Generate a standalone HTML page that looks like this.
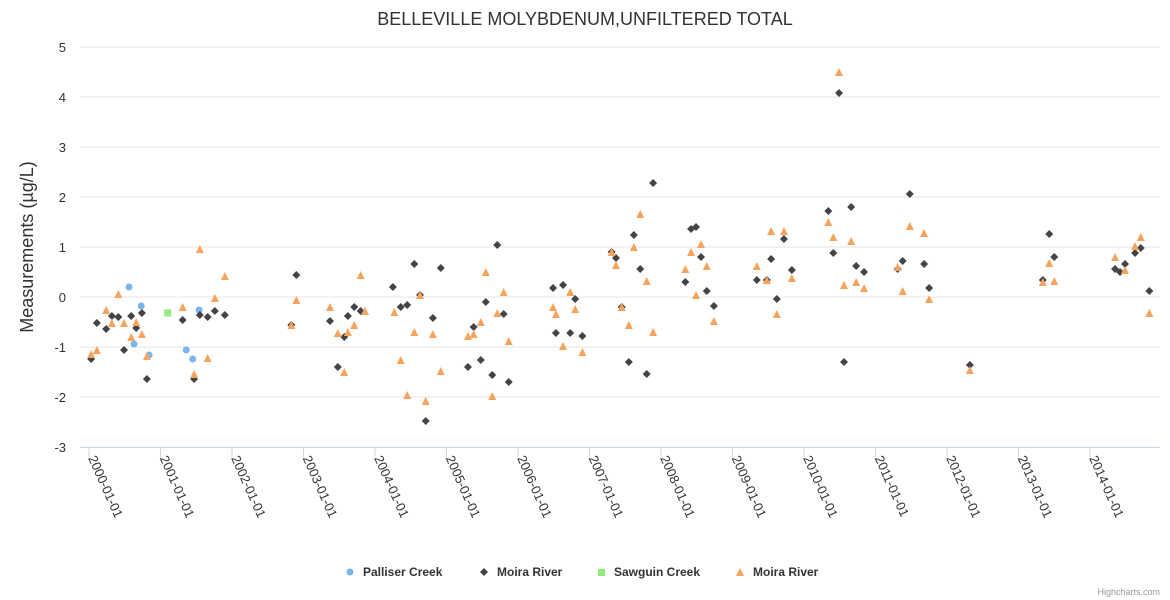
<!DOCTYPE html>
<html><head><meta charset="utf-8"><style>
html,body{margin:0;padding:0;background:#fff;}
svg{display:block;font-family:"Liberation Sans",sans-serif;}
</style></head><body>
<svg id="chart" width="1170" height="600" xmlns="http://www.w3.org/2000/svg">
<text x="585" y="25" text-anchor="middle" font-size="18" fill="#333">BELLEVILLE MOLYBDENUM,UNFILTERED TOTAL</text>
<text transform="translate(33,247) rotate(-90)" text-anchor="middle" font-size="18" fill="#333">Measurements (µg/L)</text>
<g id="grid"></g><g id="xaxis"></g><g id="marks"></g>
<g font-size="12" font-weight="bold" fill="#333">
<g><circle cx="350" cy="572" r="3.5" fill="#7cb5ec"/><text x="363" y="576">Palliser Creek</text></g>
<g><path d="M484 568 L488 572 L484 576 L480 572 Z" fill="#434348"/><text x="497" y="576">Moira River</text></g>
<g><rect x="598" y="569" width="7" height="7" fill="#90ed7d"/><text x="614" y="576">Sawguin Creek</text></g>
<g><path d="M740 568 L744 576 L736 576 Z" fill="#f7a35c"/><text x="753" y="576">Moira River</text></g>
</g>
<text x="1160" y="595" text-anchor="end" font-size="9" fill="#999">Highcharts.com</text>
</svg>
<script>
// years offset from 2000-01-01 and measured values
const yTicks=[-3,-2,-1,0,1,2,3,4,5];
const xTickYears=[0,1,2,3,4,5,6,7,8,9,10,11,12,13,14];
const xTickLabels=["2000-01-01","2001-01-01","2002-01-01","2003-01-01","2004-01-01","2005-01-01","2006-01-01","2007-01-01","2008-01-01","2009-01-01","2010-01-01","2011-01-01","2012-01-01","2013-01-01","2014-01-01"];
const palliserX=[0.56,0.63,0.73,0.84,1.36,1.45,1.54];
const palliserY=[0.20,-0.94,-0.18,-1.16,-1.06,-1.24,-0.26];
const sawguinX=[1.10];
const sawguinY=[-0.32];
const moiraAX=[0.03,0.11,0.24,0.32,0.41,0.49,0.59,0.66,0.74,0.81,1.31,1.47,1.55,1.66,1.76,1.90,2.83,2.90,3.37,3.48,3.57,3.62,3.71,3.80,4.25,4.36,4.45,4.55,4.63,4.71,4.81,4.92,5.30,5.38,5.48,5.55,5.64,5.71,5.80,5.87,6.49,6.53,6.63,6.73,6.80,6.90,7.31,7.37,7.45,7.55,7.62,7.71,7.80,7.89,8.34,8.42,8.49,8.56,8.64,8.74,9.34,9.48,9.54,9.62,9.72,9.83,10.34,10.41,10.49,10.56,10.66,10.73,10.84,11.31,11.38,11.48,11.68,11.75,12.32,13.34,13.43,13.50,14.35,14.42,14.49,14.63,14.71,14.83];
const moiraAY=[-1.24,-0.52,-0.64,-0.38,-0.40,-1.06,-0.38,-0.62,-0.32,-1.64,-0.46,-1.64,-0.36,-0.40,-0.28,-0.36,-0.56,0.44,-0.48,-1.40,-0.80,-0.38,-0.20,-0.28,0.20,-0.20,-0.16,0.66,0.04,-2.48,-0.42,0.58,-1.40,-0.60,-1.26,-0.10,-1.56,1.04,-0.34,-1.70,0.18,-0.72,0.24,-0.72,-0.04,-0.78,0.90,0.78,-0.20,-1.30,1.24,0.56,-1.54,2.28,0.30,1.36,1.40,0.80,0.12,-0.18,0.34,0.34,0.76,-0.04,1.16,0.54,1.72,0.88,4.08,-1.30,1.80,0.62,0.50,0.56,0.72,2.06,0.66,0.18,-1.36,0.34,1.26,0.80,0.56,0.50,0.66,0.88,0.98,0.12];
const moiraBX=[0.03,0.11,0.24,0.32,0.41,0.49,0.59,0.66,0.74,0.81,1.31,1.47,1.55,1.66,1.76,1.90,2.83,2.90,3.37,3.48,3.57,3.62,3.71,3.80,3.86,4.27,4.36,4.45,4.55,4.63,4.71,4.81,4.92,5.30,5.38,5.48,5.55,5.64,5.71,5.80,5.87,6.49,6.53,6.63,6.73,6.80,6.90,7.31,7.37,7.45,7.55,7.62,7.71,7.80,7.89,8.34,8.42,8.49,8.56,8.64,8.74,9.34,9.48,9.54,9.62,9.72,9.83,10.34,10.41,10.49,10.56,10.66,10.73,10.84,11.31,11.38,11.48,11.68,11.75,12.32,13.34,13.43,13.50,14.35,14.49,14.63,14.71,14.83];
const moiraBY=[-1.14,-1.06,-0.26,-0.52,0.06,-0.52,-0.80,-0.50,-0.74,-1.18,-0.20,-1.54,0.96,-1.22,-0.02,0.42,-0.56,-0.06,-0.20,-0.72,-1.50,-0.70,-0.56,0.44,-0.28,-0.30,-1.26,-1.96,-0.70,0.04,-2.08,-0.74,-1.48,-0.78,-0.74,-0.50,0.50,-1.98,-0.32,0.10,-0.88,-0.20,-0.34,-0.98,0.10,-0.24,-1.10,0.90,0.64,-0.20,-0.56,1.00,1.66,0.32,-0.70,0.56,0.90,0.04,1.06,0.62,-0.48,0.62,0.34,1.32,-0.34,1.32,0.38,1.50,1.20,4.50,0.24,1.12,0.30,0.18,0.60,0.12,1.42,1.28,-0.04,-1.46,0.30,0.68,0.32,0.80,0.54,1.02,1.20,-0.32];

const NS="http://www.w3.org/2000/svg";
const L=80,R=1160,T=47,B=447,X0=89,PXY=71.5;
const yScale=v=>B-(v-(-3))*(B-T)/8;
const xScale=t=>X0+t*PXY;
function mk(tag,attrs,parent){const e=document.createElementNS(NS,tag);for(const k in attrs)e.setAttribute(k,attrs[k]);parent.appendChild(e);return e;}
const grid=document.getElementById('grid'),xa=document.getElementById('xaxis'),marks=document.getElementById('marks');
yTicks.forEach(v=>{
  const y=yScale(v);
  if(v!==-3){const g=mk('line',{x1:L,x2:R,y1:y,y2:y,stroke:'#e6e6e6','stroke-width':1},grid);
  
  }
  const t=mk('text',{x:66,y:y+5,'text-anchor':'end','font-size':13,fill:'#333'},grid);
  
  
  t.textContent=v;
});
const ax=mk('line',{x1:L,x2:R,y1:B+0.5,y2:B+0.5,stroke:'#ccd6eb','stroke-width':1},xa);


xTickYears.forEach((t,i)=>{
  const x=xScale(t);
  const tk=mk('line',{x1:x,x2:x,y1:B,y2:B+10,stroke:'#ccd6eb','stroke-width':1},xa);
  
  
  const lb=mk('text',{transform:`translate(${x-1},${B+11}) rotate(66)`,'font-size':13,fill:'#333'},xa);
  
  
  lb.textContent=xTickLabels[i];
});
palliserX.forEach((t,i)=>{
  const c=mk('circle',{cx:xScale(t),cy:yScale(palliserY[i]),r:3.5,fill:'#7cb5ec'},marks);
  
  
});
moiraAX.forEach((t,i)=>{
  const x=xScale(t),y=yScale(moiraAY[i]);
  const p=mk('path',{d:`M${x} ${y-4} L${x+4} ${y} L${x} ${y+4} L${x-4} ${y} Z`,fill:'#434348'},marks);
  
  
});
sawguinX.forEach((t,i)=>{
  const x=xScale(t),y=yScale(sawguinY[i]);
  const r=mk('rect',{x:x-3.5,y:y-3.5,width:7,height:7,fill:'#90ed7d'},marks);
  
  
});
moiraBX.forEach((t,i)=>{
  const x=xScale(t),y=yScale(moiraBY[i]);
  const p=mk('path',{d:`M${x} ${y-4} L${x+4} ${y+4} L${x-4} ${y+4} Z`,fill:'#f7a35c'},marks);
  
  
});
</script>
</body></html>
